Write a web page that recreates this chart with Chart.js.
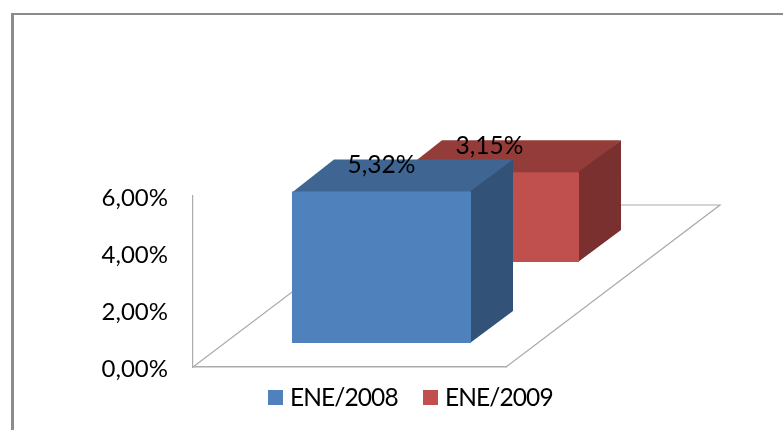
<!DOCTYPE html>
<html lang="es">

<head>
    <meta charset="UTF-8">
    <title>ENE/2008 - ENE/2009</title>
    <script src="https://cdn.jsdelivr.net/npm/chart.js"></script>
    <style>
        html, body {
            margin: 0;
            background: #fff;
        }

        #frame {
            position: absolute;
            left: 11px;
            top: 13px;
            right: 0;
            bottom: 0;
            border-left: 3px solid #8c8c8c;
            border-top: 2px solid #8c8c8c;
        }

        #chart {
            position: absolute;
            left: 0;
            top: 0;
        }
    </style>
</head>

<body>
    <div id="frame"></div>
    <canvas id="chart" width="783" height="430"></canvas>

    <script>
        const categories = [''];
        const seriesNames = ['ENE/2008', 'ENE/2009'];
        const values2008 = [5.32];
        const values2009 = [3.15];
        const valueLabels = [['5,32%'], ['3,15%']];
        const tickLabels = ['0,00%', '2,00%', '4,00%', '6,00%'];

        const FONT = '24.5px Lato';
        const AXIS = '#ababab';
        const FLOOR = { dx: 214, dy: -162 };
        // how far each series sits back on the floor, front face first
        const OFFSET = [{ dx: 32, dy: -24 }, { dx: 140, dy: -105 }];
        const DEPTH = { dx: 42, dy: -32 };
        const TOP = ['#3f6592', '#943c39'];
        const SIDE = ['#325277', '#7a302e'];
        const LEGEND_BOX = [268, 423];
        const LEGEND_TEXT = [290, 445];

        function poly(ctx, pts, fill) {
            ctx.beginPath();
            pts.forEach((p, i) => i ? ctx.lineTo(p[0], p[1]) : ctx.moveTo(p[0], p[1]));
            ctx.closePath();
            ctx.fillStyle = fill;
            ctx.fill();
        }

        const bars3d = {
            id: 'bars3d',
            beforeDatasetsDraw(chart) {
                // floor of the 3d box
                const { left, right, bottom } = chart.chartArea;
                const ctx = chart.ctx;
                ctx.save();
                ctx.strokeStyle = AXIS;
                ctx.lineWidth = 1.2;
                ctx.beginPath();
                ctx.moveTo(left, bottom);
                ctx.lineTo(left + FLOOR.dx, bottom + FLOOR.dy);
                ctx.lineTo(right + FLOOR.dx, bottom + FLOOR.dy);
                ctx.lineTo(right, bottom);
                ctx.stroke();
                ctx.restore();
            },
            beforeDatasetDraw(chart, args) {
                const ctx = chart.ctx;
                const i = args.index;
                ctx.save();
                ctx.translate(OFFSET[i].dx, OFFSET[i].dy);
                // top and side go first and run 1px under the front face, no seam then
                args.meta.data.forEach(bar => {
                    const l = bar.x - bar.width / 2;
                    const r = bar.x + bar.width / 2;
                    const t = bar.y;
                    const b = bar.base;
                    poly(ctx, [[l, t + 1], [r, t + 1], [r + DEPTH.dx, t + DEPTH.dy], [l + DEPTH.dx, t + DEPTH.dy]], TOP[i]);
                    poly(ctx, [[r - 1, t], [r + DEPTH.dx, t + DEPTH.dy], [r + DEPTH.dx, b + DEPTH.dy], [r - 1, b]], SIDE[i]);
                });
            },
            afterDatasetDraw(chart) {
                chart.ctx.restore();
            },
            afterDatasetsDraw(chart) {
                const ctx = chart.ctx;
                ctx.save();
                ctx.font = FONT;
                ctx.fillStyle = '#000';
                ctx.textAlign = 'center';
                ctx.textBaseline = 'middle';
                chart.data.datasets.forEach((ds, i) => {
                    chart.getDatasetMeta(i).data.forEach((bar, j) => {
                        ctx.fillText(valueLabels[i][j], bar.x + OFFSET[i].dx, bar.y + OFFSET[i].dy - 26);
                    });
                });
                // legend, the built-in one leaves too wide a gap after the box
                ctx.textAlign = 'left';
                ctx.letterSpacing = '-0.9px';
                chart.data.datasets.forEach((ds, i) => {
                    ctx.fillStyle = ds.backgroundColor;
                    ctx.fillRect(LEGEND_BOX[i], 390, 15, 15);
                    ctx.fillStyle = '#000';
                    ctx.fillText(ds.label, LEGEND_TEXT[i], 398);
                });
                ctx.restore();
            }
        };

        new Chart(document.getElementById('chart'), {
            type: 'bar',
            data: {
                labels: categories,
                datasets: [
                    { label: seriesNames[0], data: values2008, backgroundColor: '#4f81bd' },
                    { label: seriesNames[1], data: values2009, backgroundColor: '#c0504d' }
                ]
            },
            options: {
                responsive: false,
                animation: false,
                events: [],
                clip: false,
                categoryPercentage: 1,
                barPercentage: 0.572,
                layout: { padding: { left: 0, top: 196, right: 277, bottom: 63 } },
                plugins: {
                    legend: { display: false },
                    tooltip: { enabled: false }
                },
                scales: {
                    x: {
                        stacked: true, // both bars on the same spot, the offset pushes them back
                        grid: { display: false, drawTicks: false },
                        border: { display: true, color: AXIS, width: 1.5 },
                        ticks: { display: false },
                        afterFit(s) { s.height = 0; }
                    },
                    y: {
                        min: 0,
                        max: 6,
                        grid: { display: false, drawTicks: false },
                        border: { display: true, color: AXIS, width: 1.2 },
                        ticks: {
                            stepSize: 2,
                            padding: 25,
                            labelOffset: 2,
                            color: '#000',
                            font: { family: 'Lato', size: 24 },
                            callback: (v, i) => tickLabels[i]
                        },
                        afterFit(s) { s.width = 193; }
                    }
                }
            },
            plugins: [bars3d]
        });
    </script>
</body>

</html>
